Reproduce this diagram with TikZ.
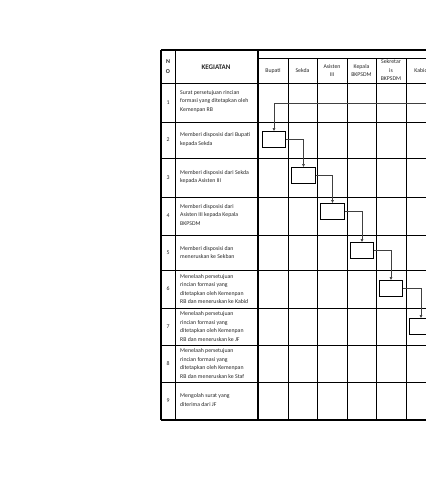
\documentclass[tikz,border=0pt]{standalone}
\usepackage{fontspec}
\setmainfont{Carlito}
\usetikzlibrary{arrows.meta,positioning}

\begin{document}
\begin{tikzpicture}[x=1pt,y=-1pt,every node/.style={font=\fontsize{5.8}{8.5}\selectfont,inner sep=0pt},
      kol/.style={align=center,text=black!85},
      keg/.style={anchor=west,align=left,text=black!85},
      nom/.style={align=center,text=black!85},
      act/.style={draw,line width=0.9pt,minimum width=23.5pt,minimum height=15.5pt,anchor=north},
      flow/.style={draw=black!75,line width=0.5pt,-{Latex[length=3pt,width=3pt]}},
      tabline/.style={line width=0.6pt},
      border/.style={line width=1.1pt}]
    \useasboundingbox (0,0) rectangle (426,480);
    \clip (0,0) rectangle (426,480);
    % table lines
    \draw[border] (161,50) -- (440,50);
    \draw[tabline] (258,58) -- (440,58);
    \foreach \y in {83,122,158,197,235,270,308,345,382}
      \draw[tabline] (161,\y) -- (440,\y);
    \draw[border] (161,420) -- (440,420);
    \draw[border] (161,50) -- (161,420);
    \draw[tabline] (175,50) -- (175,420);
    \draw[border] (258,50) -- (258,420);
    \foreach \x in {288,317,347,376,406,436}
      \draw[tabline] (\x,58) -- (\x,420);
    % header
    \node[nom,font=\fontsize{6}{9.5}\selectfont\bfseries] (no) at (168,66.5) {N\\O};
    \node[nom,font=\fontsize{7}{9}\selectfont\bfseries] (kegiatan) at (216,67) {KEGIATAN};
    \node[kol] (bup)  at (273,70.5)   {Bupati};
    \node[kol] (sek)  at (302.5,70.5) {Sekda};
    \node[kol] (asi)  at (332,70.5)   {Asisten\\III};
    \node[kol] (kep)  at (361.5,70.5) {Kepala\\BKPSDM};
    \node[kol] (sekr) at (391,70.5)   {Sekretar\\is\\BKPSDM};
    \node[kol] (kab)  at (421,70.5)   {Kabid};
    % numbers
    \node[nom] (n1) at (168,102.5) {1};
    \node[nom] (n2) at (168,140)   {2};
    \node[nom] (n3) at (168,177.5) {3};
    \node[nom] (n4) at (168,216)   {4};
    \node[nom] (n5) at (168,252.5) {5};
    \node[nom] (n6) at (168,289)   {6};
    \node[nom] (n7) at (168,326.5) {7};
    \node[nom] (n8) at (168,363.5) {8};
    \node[nom] (n9) at (168,401)   {9};
    % activities
    \node[keg] (k1) at (180,101)   {Surat persetujuan rincian\\formasi yang ditetapkan oleh\\Kemenpan RB};
    \node[keg] (k2) at (180,139.5) {Memberi disposisi dari Bupati\\kepada Sekda};
    \node[keg] (k3) at (180,177)   {Memberi disposisi dari Sekda\\kepada Asisten III};
    \node[keg] (k4) at (180,215)   {Memberi disposisi dari\\Asisten III kepada Kepala\\BKPSDM};
    \node[keg] (k5) at (180,252.5) {Memberi disposisi dan\\meneruskan ke Sekban};
    \node[keg] (k6) at (180,289)   {Menelaah persetujuan\\rincian formasi yang\\ditetapkan oleh Kemenpan\\RB dan meneruskan ke Kabid};
    \node[keg] (k7) at (180,326.5) {Menelaah persetujuan\\rincian formasi yang\\ditetapkan oleh Kemenpan\\RB dan meneruskan ke JF};
    \node[keg] (k8) at (180,363.5) {Menelaah persetujuan\\rincian formasi yang\\ditetapkan oleh Kemenpan\\RB dan meneruskan ke Staf};
    \node[keg] (k9) at (180,400)   {Mengolah surat yang\\diterima dari JF};
    % flow boxes
    \coordinate (src) at (440,103);
    \node[act] (b2) at (274,131)   {};
    \node[act] (b3) at (303.5,167) {};
    \node[act] (b4) at (332.5,203) {};
    \node[act] (b5) at (362,242)   {};
    \node[act] (b6) at (391,280)   {};
    \node[act] (b7) at (421,318)   {};
    \draw[flow] (src) -| (b2.north);
    \draw[flow] (b2.east) -| (b3.north);
    \draw[flow] (b3.east) -| (b4.north);
    \draw[flow] (b4.east) -| (b5.north);
    \draw[flow] (b5.east) -| (b6.north);
    \draw[flow] (b6.east) -| (b7.north);
  \end{tikzpicture}
\end{document}
